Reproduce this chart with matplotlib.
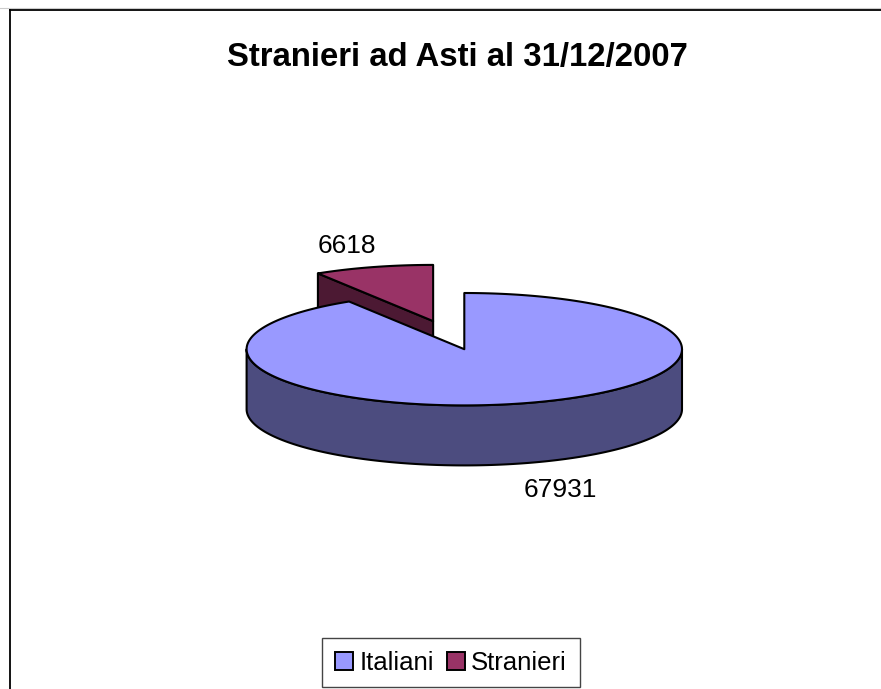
import numpy as np
import matplotlib
matplotlib.use('Agg')
import matplotlib.pyplot as plt
from matplotlib.patches import Polygon, Patch
from matplotlib.lines import Line2D

# ---- data ----
categories = ['Italiani', 'Stranieri']
values = [67931, 6618]
value_labels = ['67931', '6618']
colors_top = ['#9999FF', '#993366']
colors_side = ['#4C4C7F', '#4C1933']
title = 'Stranieri ad Asti al 31/12/2007'

plt.rcParams['font.family'] = ['Liberation Sans', 'DejaVu Sans']

W, H = 881, 689
fig = plt.figure(figsize=(W / 100, H / 100), dpi=100)
ax = fig.add_axes([0, 0, 1, 1])
ax.set_xlim(0, W)
ax.set_ylim(H, 0)
ax.axis('off')

# outer chart frame (top and left visible)
ax.add_line(Line2D([0, W], [7.5, 7.5], color='#cccccc', lw=0.8))
ax.add_line(Line2D([9.5, W], [9.5, 9.5], color='black', lw=1.3))
ax.add_line(Line2D([9.5, 9.5], [9.5, H], color='black', lw=1.3))

# ---- 3D pie geometry ----
cx, cy, a, b, depth = 464.3, 349.2, 217.7, 56.2, 60
total = sum(values)
frac_S = values[1] / total * 360.0
start_S, end_S = 90.0, 90.0 + frac_S
start_I, end_I = end_S, 450.0


def arc(t0, t1, ox=0.0, oy=0.0, dz=0.0, n=300):
    t = np.radians(np.linspace(t0, t1, n))
    return np.column_stack([cx + ox + a * np.cos(t), cy + oy - b * np.sin(t) + dz])


edge_kw = dict(edgecolor='black', linewidth=1.5, joinstyle='round')

# Stranieri (exploded)
mid = np.radians((start_S + end_S) / 2)
r_expl = 0.52
ox, oy = r_expl * a * np.cos(mid), -r_expl * b * np.sin(mid)
apex = np.array([cx + ox, cy + oy])
left = arc(end_S, end_S, ox, oy, n=1)[0]
dark_face = np.array([apex, left, left + [0, depth], apex + [0, depth]])
ax.add_patch(Polygon(dark_face, closed=True, facecolor=colors_side[1], **edge_kw))
top_S = np.vstack([[apex], arc(start_S, end_S, ox, oy)])
ax.add_patch(Polygon(top_S, closed=True, facecolor=colors_top[1], **edge_kw))

# Italiani side (front half) and top
side_I = np.vstack([arc(180, 360), arc(360, 180, dz=depth)])
ax.add_patch(Polygon(side_I, closed=True, facecolor=colors_side[0], **edge_kw))
top_I = np.vstack([[[cx, cy]], arc(start_I, end_I)])
ax.add_patch(Polygon(top_I, closed=True, facecolor=colors_top[0], **edge_kw))

# data labels
ax.text(560, 497, value_labels[0], fontsize=19, ha='center', va='baseline')
ax.text(347, 253, value_labels[1], fontsize=19, ha='center', va='baseline')

# title
ax.text(457.5, 66, title, fontsize=23.7, fontweight='bold', ha='center', va='baseline')

# legend
handles = [Patch(facecolor=c, edgecolor='black', linewidth=1.4, label=l)
           for c, l in zip(colors_top, categories)]
leg = fig.legend(handles=handles, loc='center', bbox_to_anchor=(451 / W, 1 - 662.5 / H),
                 ncol=2, frameon=True, fancybox=False, edgecolor='#444444', framealpha=1,
                 fontsize=18.5, handlelength=0.7, handleheight=0.7, handletextpad=0.25,
                 columnspacing=0.5, borderpad=0.5, borderaxespad=0)
leg.get_frame().set_linewidth(1.0)

fig.savefig('out.png', dpi=100)
